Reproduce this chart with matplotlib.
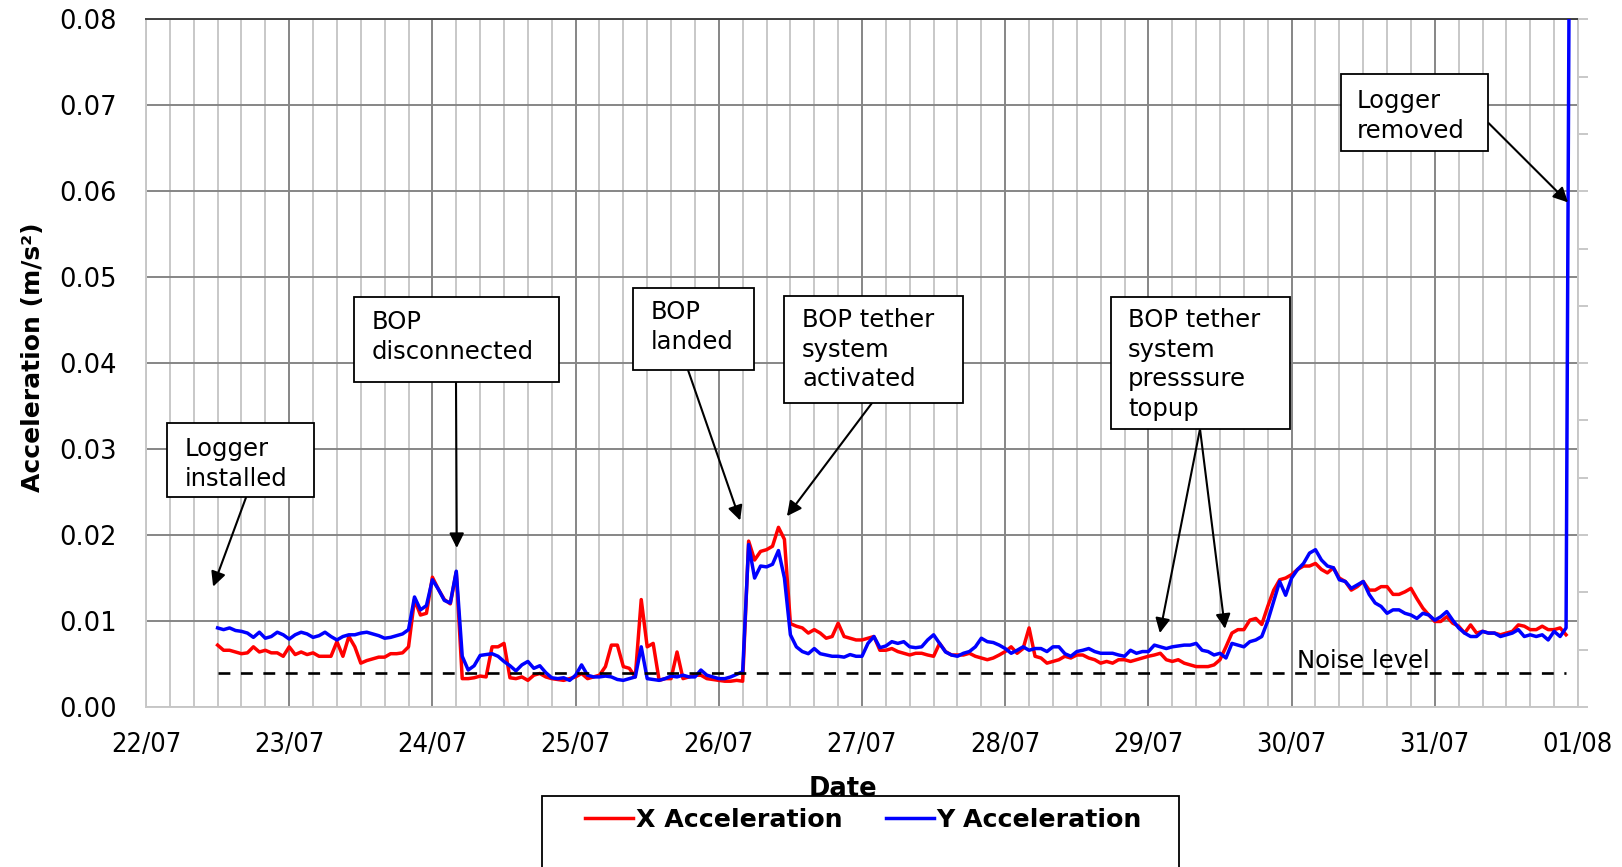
import numpy as np
import pandas as pd
import matplotlib
matplotlib.use("Agg")
import matplotlib.pyplot as plt
import matplotlib.dates as mdates
from matplotlib.patches import Rectangle

# ---------------------------------------------------------------------------
# Hourly acceleration record, first sample 22/07 12:00 (units: 0.001 m/s^2)
# ---------------------------------------------------------------------------
record_start = "2010-07-22 12:00"

x_acc_milli = [
    7.2, 6.6, 6.6, 6.4, 6.2, 6.3, 7.0, 6.4, 6.6, 6.3, 6.3, 5.9,            # 12-23
    7.0, 6.1, 6.4, 6.1, 6.3, 5.9, 5.9, 5.9, 7.6, 5.9, 8.2, 7.0,            # 24-35
    5.1, 5.4, 5.6, 5.8, 5.8, 6.2, 6.2, 6.3, 7.0, 12.5, 10.7, 10.9,         # 36-47
    15.1, 13.7, 12.5, 12.0, 15.7, 3.3, 3.3, 3.4, 3.6, 3.5, 7.0, 7.0,       # 48-59
    7.4, 3.4, 3.3, 3.5, 3.1, 3.7, 3.9, 3.5, 3.3, 3.2, 3.1, 3.3,            # 60-71
    3.5, 3.9, 3.3, 3.5, 3.7, 4.7, 7.2, 7.2, 4.7, 4.5, 3.5, 12.5,           # 72-83
    7.0, 7.4, 3.1, 3.3, 3.3, 6.4, 3.3, 3.5, 3.7, 3.7, 3.3, 3.2,            # 84-95
    3.1, 3.0, 3.0, 3.1, 3.0, 19.3, 17.1, 18.1, 18.3, 18.7, 20.9, 19.5,     # 96-107
    9.7, 9.4, 9.2, 8.6, 9.0, 8.6, 8.0, 8.2, 9.75, 8.2, 8.0, 7.8,           # 108-119
    7.8, 8.0, 8.2, 6.6, 6.6, 6.8, 6.45, 6.25, 6.05, 6.25, 6.25, 6.05,      # 120-131
    5.9, 7.4, 6.45, 6.05, 6.05, 6.05, 6.25, 5.9, 5.7, 5.5, 5.7, 6.05,      # 132-143
    6.45, 7.0, 6.25, 6.8, 9.2, 5.9, 5.7, 5.1, 5.3, 5.5, 5.9, 5.7,          # 144-155
    6.05, 6.05, 5.7, 5.5, 5.1, 5.3, 5.1, 5.5, 5.5, 5.3, 5.5, 5.7,          # 156-167
    5.9, 6.05, 6.25, 5.5, 5.3, 5.5, 5.1, 4.9, 4.7, 4.7, 4.7, 4.9,          # 168-179
    5.5, 7.0, 8.6, 9.0, 9.0, 10.1, 10.3, 9.6, 11.7, 13.6, 14.8, 15.0,      # 180-191
    15.4, 16.0, 16.4, 16.4, 16.7, 16.0, 15.6, 16.2, 15.0, 14.6, 13.6, 14.0,  # 192-203
    14.6, 13.6, 13.6, 14.0, 14.0, 13.1, 13.1, 13.4, 13.8, 12.6, 11.5, 10.7,  # 204-215
    9.95, 9.95, 10.5, 9.75, 9.4, 8.6, 9.55, 8.6, 8.8, 8.6, 8.6, 8.4,       # 216-227
    8.6, 8.8, 9.55, 9.4, 9.0, 9.0, 9.4, 9.0, 9.0, 9.2, 8.4,                # 228-238
]

y_acc_milli = [
    9.2, 9.0, 9.2, 8.9, 8.8, 8.6, 8.1, 8.7, 8.0, 8.2, 8.7, 8.4,            # 12-23
    7.9, 8.4, 8.7, 8.5, 8.1, 8.3, 8.7, 8.2, 7.8, 8.2, 8.4, 8.4,            # 24-35
    8.6, 8.7, 8.5, 8.3, 8.0, 8.1, 8.3, 8.5, 9.0, 12.8, 11.3, 11.8,         # 36-47
    14.8, 13.7, 12.4, 12.1, 15.8, 5.9, 4.3, 4.8, 6.0, 6.1, 6.2, 5.9,       # 48-59
    5.3, 4.8, 4.2, 4.9, 5.3, 4.5, 4.8, 4.0, 3.4, 3.3, 3.4, 3.1,            # 60-71
    3.7, 4.9, 3.7, 3.5, 3.5, 3.6, 3.5, 3.2, 3.1, 3.3, 3.5, 7.0,            # 72-83
    3.3, 3.2, 3.1, 3.3, 3.6, 3.5, 3.7, 3.5, 3.5, 4.3, 3.7, 3.5,            # 84-95
    3.3, 3.3, 3.5, 3.8, 4.1, 18.9, 15.0, 16.4, 16.3, 16.6, 18.2, 15.0,     # 96-107
    8.4, 7.0, 6.45, 6.2, 6.8, 6.2, 6.05, 5.9, 5.9, 5.8, 6.1, 5.9,          # 108-119
    5.9, 7.4, 8.2, 6.9, 7.1, 7.6, 7.4, 7.6, 7.0, 6.9, 7.0, 7.8,            # 120-131
    8.4, 7.4, 6.4, 6.05, 5.9, 6.25, 6.45, 7.0, 8.0, 7.6, 7.5, 7.2,         # 132-143
    6.8, 6.25, 6.6, 7.0, 6.6, 6.8, 6.8, 6.45, 7.0, 7.0, 6.2, 5.9,          # 144-155
    6.45, 6.6, 6.8, 6.45, 6.25, 6.25, 6.25, 6.05, 5.9, 6.6, 6.25, 6.45,    # 156-167
    6.45, 7.2, 7.0, 6.8, 7.0, 7.1, 7.2, 7.2, 7.4, 6.6, 6.45, 6.05,         # 168-179
    6.25, 5.7, 7.4, 7.2, 7.0, 7.6, 7.8, 8.2, 10.0, 12.3, 14.6, 13.0,       # 180-191
    15.0, 16.0, 16.7, 17.9, 18.3, 17.1, 16.4, 16.2, 14.8, 14.6, 13.8, 14.2,  # 192-203
    14.6, 13.1, 12.1, 11.7, 10.9, 11.3, 11.3, 10.9, 10.7, 10.3, 10.9, 10.7,  # 204-215
    10.1, 10.5, 11.1, 10.1, 9.2, 8.6, 8.2, 8.2, 8.8, 8.6, 8.6, 8.2,        # 216-227
    8.4, 8.6, 9.0, 8.2, 8.4, 8.2, 8.4, 7.8, 8.8, 8.2, 9.2,                 # 228-238
]

# reading taken as the logger was pulled out
removal_time = "2010-07-31 22:35"
removal_y_milli = 95.0

noise_level = 0.004

y_ticks = [0.00, 0.01, 0.02, 0.03, 0.04, 0.05, 0.06, 0.07, 0.08]
x_start, x_end = "2010-07-22", "2010-08-01"

# event annotations: text, arrow target (time, value)
events = [
    ("Logger\ninstalled", [("2010-07-22 11:15", 0.0140)]),
    ("BOP\ndisconnected", [("2010-07-24 04:05", 0.0185)]),
    ("BOP\nlanded", [("2010-07-26 03:35", 0.0217)]),
    ("BOP tether\nsystem\nactivated", [("2010-07-26 11:25", 0.0222)]),
    ("BOP tether\nsystem\npresssure\ntopup", [("2010-07-29 01:55", 0.0086),
                                              ("2010-07-29 12:50", 0.0091)]),
    ("Logger\nremoved", [("2010-07-31 22:20", 0.0587)]),
]

# ---------------------------------------------------------------------------
W, H = 1622, 867
fig = plt.figure(figsize=(W / 100, H / 100), dpi=100)
ax = fig.add_axes([146 / W, 1 - 707 / H, (1578 - 146) / W, (707 - 19.3) / H])

t_x = pd.date_range(record_start, periods=len(x_acc_milli), freq="h")
t_y = pd.date_range(record_start, periods=len(y_acc_milli), freq="h")
t_y = t_y.append(pd.DatetimeIndex([pd.Timestamp(removal_time)]))
x_acc = np.array(x_acc_milli) / 1000.0
y_acc = np.array(y_acc_milli + [removal_y_milli]) / 1000.0

line_x, = ax.plot(t_x, x_acc, color="#ff0000", lw=2.5, zorder=3,
                  solid_joinstyle="round")
line_y, = ax.plot(t_y, y_acc, color="#0000ff", lw=2.5, zorder=4,
                  solid_joinstyle="round")
ax.hlines(noise_level, t_x[0], t_x[-1], colors="black", lw=1.9,
          linestyles=(0, (4.5, 4.0)), zorder=5)
ax.text(pd.Timestamp("2010-07-30 00:50"), 0.00455, "Noise level",
        fontsize=17.5, ha="left", va="baseline", zorder=6)

ax.set_xlim(pd.Timestamp(x_start), pd.Timestamp(x_end))
ax.set_ylim(0, 0.08)
ax.set_yticks(y_ticks)
ax.yaxis.set_major_formatter(matplotlib.ticker.FormatStrFormatter("%.2f"))
ax.xaxis.set_major_locator(mdates.DayLocator())
ax.xaxis.set_minor_locator(mdates.HourLocator(byhour=range(0, 24, 4)))
ax.xaxis.set_major_formatter(mdates.DateFormatter("%d/%m"))

ax.set_axisbelow(True)
ax.grid(which="major", axis="both", color="#868686", lw=1.4)
ax.grid(which="minor", axis="x", color="#c8c8c8", lw=1.4)
ax.tick_params(which="both", length=0)
ax.tick_params(axis="y", labelsize=18.5, pad=21)
ax.tick_params(axis="x", labelsize=19.5, pad=18)
for lab in ax.get_xticklabels():
    lab.set_fontstretch("condensed")

for side in ("left", "bottom", "right"):
    ax.spines[side].set_color("#c8c8c8")
    ax.spines[side].set_linewidth(1.4)
ax.spines["top"].set_color("#404040")
ax.spines["top"].set_linewidth(1.4)

# secondary scale on the right: tick marks only
axr = ax.twinx()
axr.set_ylim(0, 1)
axr.set_yticks(np.linspace(0, 1, 13))
axr.tick_params(axis="y", length=7, width=1.4, color="#c8c8c8", labelright=False)
for s in axr.spines.values():
    s.set_visible(False)

fig.text(33 / W, 1 - 357 / H, "Acceleration (m/s²)", rotation=90,
         ha="center", va="center", fontsize=18, fontweight="bold")
fig.text(843 / W, 1 - 789 / H, "Date", ha="center", va="center",
         fontsize=18.5, fontweight="bold")

# ---------------------------------------------------------------------------
# annotation boxes (pixel layout, origin top-left) and arrows
boxes = [
    (166.5, 423, 313.5, 497.5, 185, 437, (246, 497.5)),
    (354, 297, 558.5, 381.5, 372, 310, (456, 381.5)),
    (633, 287.5, 754, 370, 651, 300, (688, 370)),
    (784, 296, 963, 403, 802, 308, (872, 403)),
    (1111, 297, 1290, 429, 1128, 308, (1200, 429)),
    (1340.5, 74.5, 1487.5, 151, 1357, 89, (1488.5, 123)),
]

for (label, targets), (x0, y0, x1, y1, tx, ty, start) in zip(events, boxes):
    fig.add_artist(Rectangle((x0 / W, 1 - y1 / H), (x1 - x0) / W, (y1 - y0) / H,
                             transform=fig.transFigure, facecolor="white",
                             edgecolor="black", lw=1.3, zorder=5))
    fig.text(tx / W, 1 - ty / H, label, ha="left", va="top", fontsize=17.5,
             linespacing=1.3, zorder=6)
    for when, val in targets:
        ax.annotate("", xy=(pd.Timestamp(when), val), xycoords="data",
                    xytext=(start[0], H - start[1]), textcoords="figure pixels",
                    arrowprops=dict(arrowstyle="-|>", color="black", lw=1.5,
                                    mutation_scale=22, shrinkA=0, shrinkB=0),
                    annotation_clip=False, zorder=7)

# ---------------------------------------------------------------------------
# legend
leg = fig.legend([line_x, line_y], ["X Acceleration", "Y Acceleration"],
                 ncol=2, frameon=False, loc="center left",
                 bbox_to_anchor=(585 / W, 1 - 820 / H),
                 borderpad=0, borderaxespad=0, handlelength=1.9,
                 handletextpad=0.12, columnspacing=1.7,
                 prop={"weight": "bold", "size": 18.2})
fig.add_artist(Rectangle((542 / W, 1 - 880 / H), (1179 - 542) / W, 84 / H,
                         transform=fig.transFigure, facecolor="none",
                         edgecolor="black", lw=1.3, zorder=5))

fig.savefig("out.png", dpi=100)
